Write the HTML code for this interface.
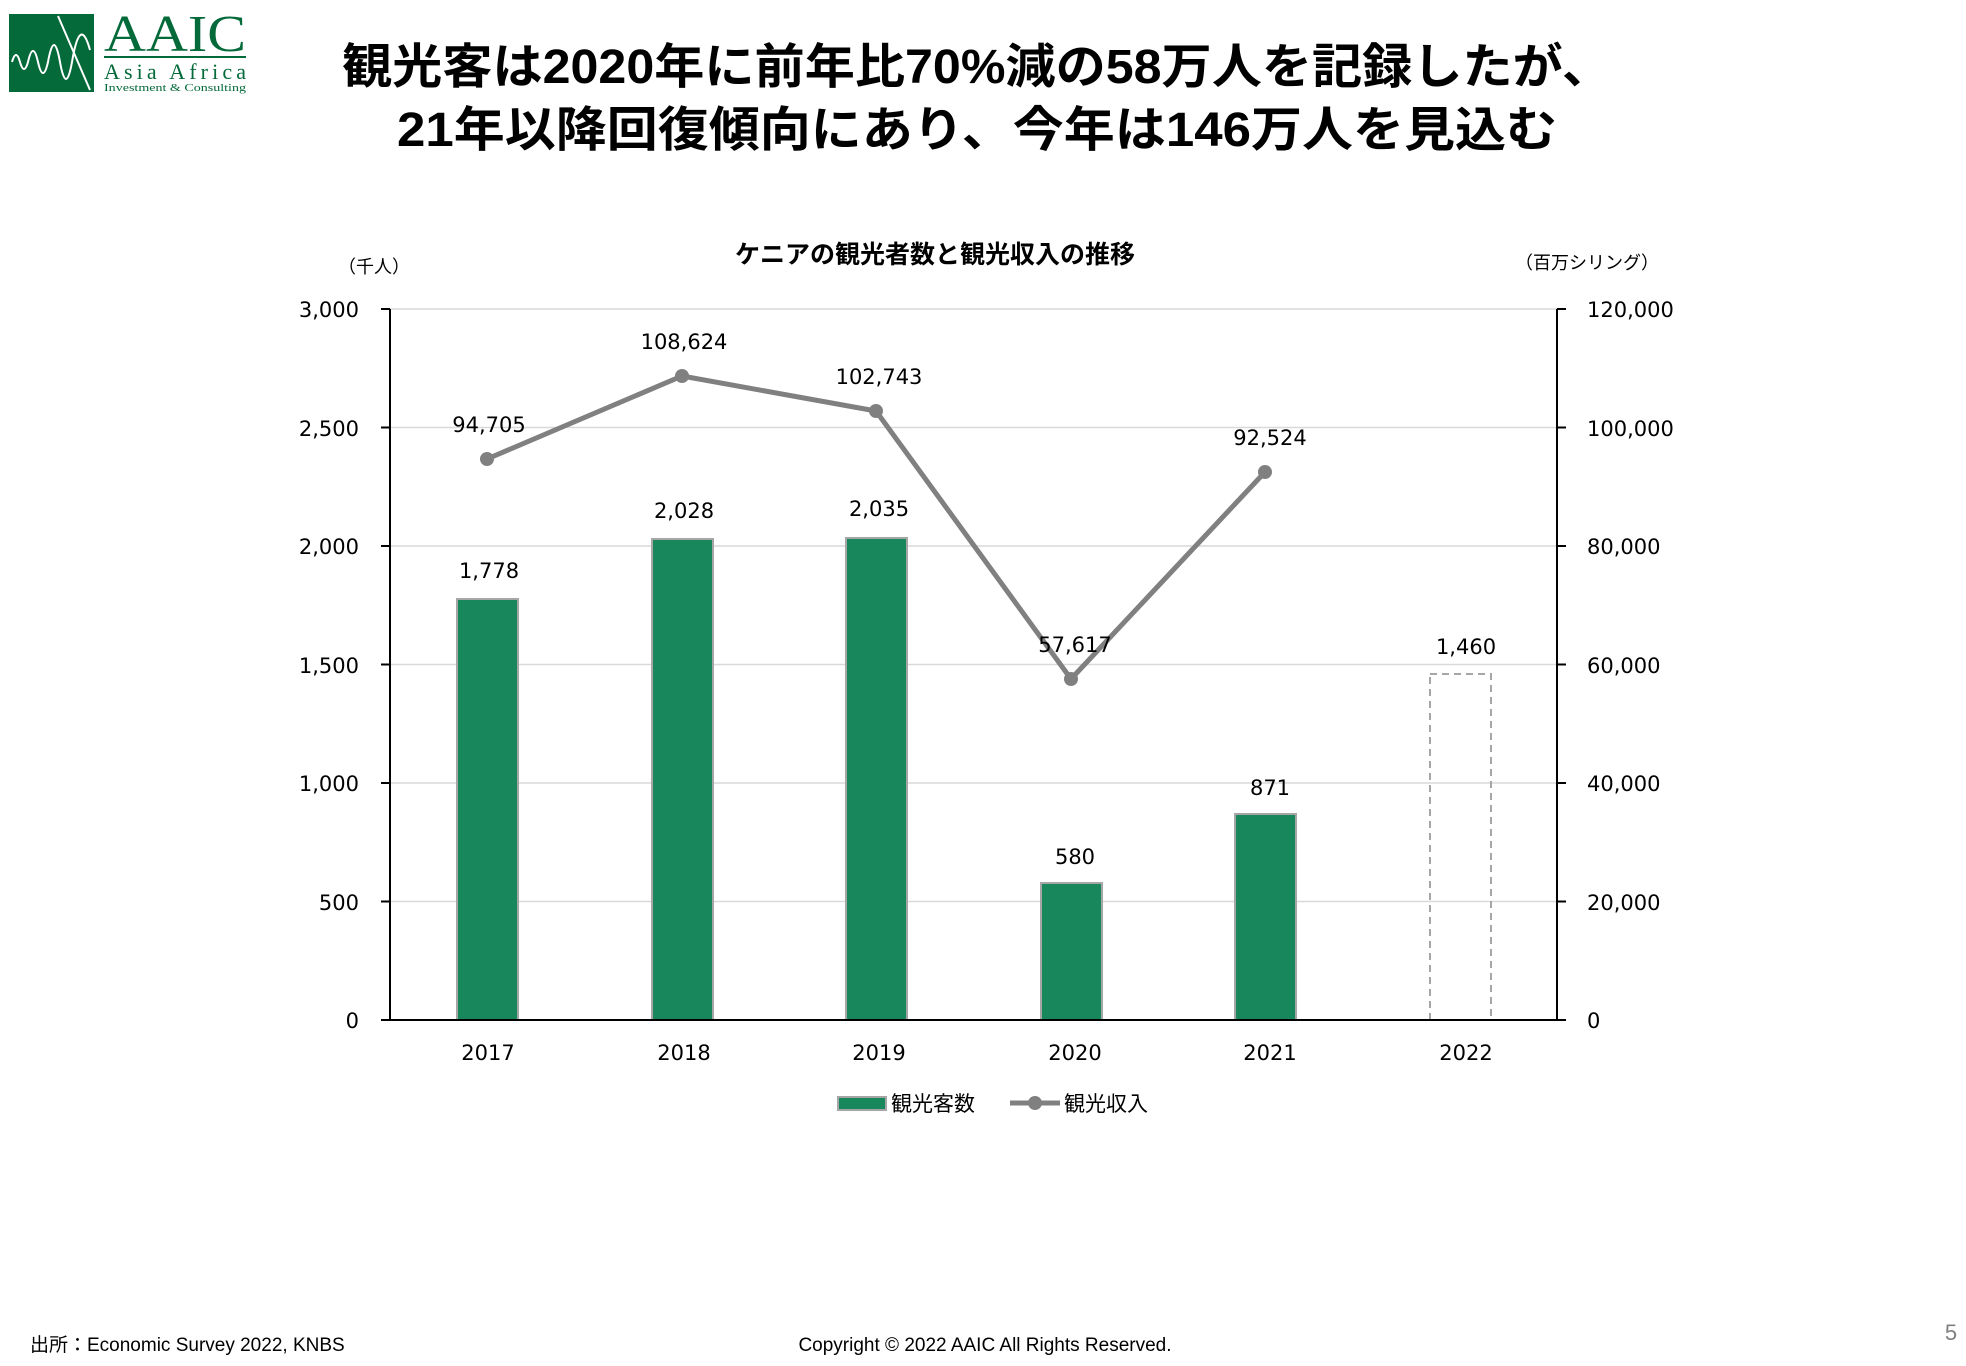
<!DOCTYPE html>
<html><head><meta charset="utf-8"><style>
html,body{margin:0;padding:0;background:#fff;}
svg{display:block;}
text{font-family:"DejaVu Sans","Noto Sans CJK JP",sans-serif;}
.l{font-family:"Liberation Sans","Noto Sans CJK JP",sans-serif;}
.s{font-family:"Liberation Serif",serif;}
</style></head><body>
<svg width="1966" height="1366" viewBox="0 0 1966 1366" xmlns="http://www.w3.org/2000/svg">
<!-- logo -->
<rect x="9" y="14" width="85" height="78" fill="#046a3a"/>
<path d="M12 62 Q16 48 20 62 T28 62 Q33 40 38 62 T48 62 Q54 28 60 62 T72 62 Q80 14 90 50" fill="none" stroke="#fff" stroke-width="2"/>
<path d="M58 16 L90 90" stroke="#fff" stroke-width="2"/>
<text x="104" y="51" class="s" font-size="52" fill="#046a3a" textLength="142" lengthAdjust="spacingAndGlyphs">AAIC</text>
<rect x="104" y="56" width="142" height="2" fill="#046a3a"/>
<text x="104" y="79" class="s" font-size="22" fill="#046a3a" textLength="142" lengthAdjust="spacing">Asia Africa</text>
<text x="104" y="91" class="s" font-size="11" fill="#046a3a" textLength="142" lengthAdjust="spacingAndGlyphs">Investment &amp; Consulting</text>
<!-- title -->
<text x="977" y="83" class="l" font-size="48" font-weight="bold" text-anchor="middle" textLength="1270" lengthAdjust="spacingAndGlyphs">観光客は2020年に前年比70%減の58万人を記録したが、</text>
<text x="977" y="146" class="l" font-size="48" font-weight="bold" text-anchor="middle" textLength="1160" lengthAdjust="spacingAndGlyphs">21年以降回復傾向にあり、今年は146万人を見込む</text>
<!-- chart title -->
<text x="935" y="263" class="l" font-size="25" font-weight="bold" text-anchor="middle">ケニアの観光者数と観光収入の推移</text>
<text x="338" y="273" class="l" font-size="18">（千人）</text>
<text x="1515" y="269" class="l" font-size="18">（百万シリング）</text>
<!-- gridlines -->
<g stroke="#d9d9d9" stroke-width="1.5">
<line x1="390" y1="309" x2="1557" y2="309"/>
<line x1="390" y1="427.5" x2="1557" y2="427.5"/>
<line x1="390" y1="546" x2="1557" y2="546"/>
<line x1="390" y1="664.5" x2="1557" y2="664.5"/>
<line x1="390" y1="783" x2="1557" y2="783"/>
<line x1="390" y1="901.5" x2="1557" y2="901.5"/>
</g>
<!-- bars -->
<g fill="#18875b" stroke="#a6a6a6" stroke-width="2">
<rect x="457" y="599" width="61" height="421"/>
<rect x="652" y="539" width="61" height="481"/>
<rect x="846" y="538" width="61" height="482"/>
<rect x="1041" y="883" width="61" height="137"/>
<rect x="1235" y="814" width="61" height="206"/>
</g>
<rect x="1430" y="674" width="61" height="346" fill="none" stroke="#a6a6a6" stroke-width="2" stroke-dasharray="7,5"/>
<!-- axes -->
<g stroke="#000" stroke-width="2">
<line x1="390" y1="309" x2="390" y2="1020"/>
<line x1="1557" y1="309" x2="1557" y2="1020"/>
<line x1="381" y1="1020" x2="1566" y2="1020"/>
<line x1="381" y1="309" x2="390" y2="309"/><line x1="381" y1="427.5" x2="390" y2="427.5"/><line x1="381" y1="546" x2="390" y2="546"/><line x1="381" y1="664.5" x2="390" y2="664.5"/><line x1="381" y1="783" x2="390" y2="783"/><line x1="381" y1="901.5" x2="390" y2="901.5"/>
<line x1="1557" y1="309" x2="1566" y2="309"/><line x1="1557" y1="427.5" x2="1566" y2="427.5"/><line x1="1557" y1="546" x2="1566" y2="546"/><line x1="1557" y1="664.5" x2="1566" y2="664.5"/><line x1="1557" y1="783" x2="1566" y2="783"/><line x1="1557" y1="901.5" x2="1566" y2="901.5"/>
</g>
<!-- line -->
<polyline points="487,459 682,376 876,411 1071,679 1265,472" fill="none" stroke="#808080" stroke-width="5" stroke-linejoin="round"/>
<g fill="#808080">
<circle cx="487" cy="459" r="7"/><circle cx="682" cy="376" r="7"/><circle cx="876" cy="411" r="7"/><circle cx="1071" cy="679" r="7"/><circle cx="1265" cy="472" r="7"/>
</g>
<g font-size="21" text-anchor="end">
<text x="359" y="317">3,000</text><text x="359" y="436">2,500</text><text x="359" y="554">2,000</text><text x="359" y="673">1,500</text><text x="359" y="791">1,000</text><text x="359" y="910">500</text><text x="359" y="1028">0</text>
</g>
<g font-size="21">
<text x="1587" y="317">120,000</text><text x="1587" y="436">100,000</text><text x="1587" y="554">80,000</text><text x="1587" y="673">60,000</text><text x="1587" y="791">40,000</text><text x="1587" y="910">20,000</text><text x="1587" y="1028">0</text>
</g>
<g font-size="21" text-anchor="middle">
<text x="488" y="1060">2017</text><text x="684" y="1060">2018</text><text x="879" y="1060">2019</text><text x="1075" y="1060">2020</text><text x="1270" y="1060">2021</text><text x="1466" y="1060">2022</text>
<text x="489" y="578">1,778</text><text x="684" y="518">2,028</text><text x="879" y="516">2,035</text><text x="1075" y="864">580</text><text x="1270" y="795">871</text><text x="1466" y="654">1,460</text>
<text x="489" y="432">94,705</text><text x="684" y="349">108,624</text><text x="879" y="384">102,743</text><text x="1075" y="652">57,617</text><text x="1270" y="445">92,524</text>
</g>
<!-- legend -->
<rect x="838" y="1097" width="48" height="13" fill="#18875b" stroke="#a6a6a6" stroke-width="2"/>
<text x="891" y="1111" class="l" font-size="21">観光客数</text>
<line x1="1010" y1="1103" x2="1060" y2="1103" stroke="#808080" stroke-width="5"/>
<circle cx="1035" cy="1103" r="7" fill="#808080"/>
<text x="1064" y="1111" class="l" font-size="21">観光収入</text>
<!-- footer -->
<text x="30" y="1357" class="l" font-size="19" transform="translate(0,-6)">出所：Economic Survey 2022, KNBS</text>
<text x="985" y="1351" class="l" font-size="19" text-anchor="middle">Copyright © 2022 AAIC All Rights Reserved.</text>
<text x="1951" y="1340" class="l" font-size="22" fill="#808080" text-anchor="middle">5</text>
</svg>
</body></html>
